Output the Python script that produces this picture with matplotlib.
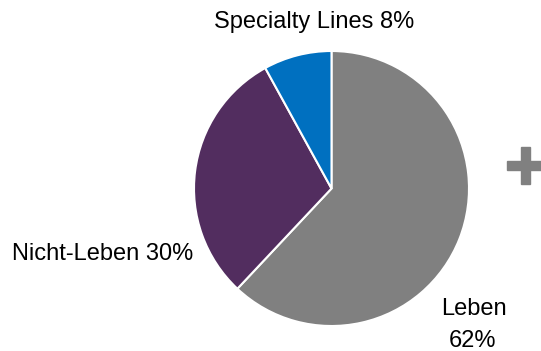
import matplotlib.pyplot as plt
from matplotlib.patches import Rectangle

# segment shares (percent), drawn clockwise from 12 o'clock
segments = ['Leben', 'Nicht-Leben', 'Specialty Lines']
shares = [62, 30, 8]
colors = ['#808080', '#522D5F', '#0070C0']

plt.rcParams['font.family'] = ['Liberation Sans', 'DejaVu Sans']

W, H = 541, 351
fig = plt.figure(figsize=(W / 100, H / 100), dpi=100, facecolor='white')

# pie centre and radius in pixels
cx, cy, r = 331.5, 188.5, 137.5
ax = fig.add_axes([(cx - r) / W, (H - cy - r) / H, 2 * r / W, 2 * r / H])
ax.pie(shares, colors=colors, startangle=90, counterclock=False, radius=1,
       wedgeprops=dict(edgecolor='white', linewidth=1.5))
ax.set_xlim(-1, 1)
ax.set_ylim(-1, 1)
ax.set_aspect('equal')
ax.axis('off')


def px(x, y):
    # pixel position -> data units of the pie axes
    return (x - cx) / r, (cy - y) / r


fs = 17
kw = dict(fontsize=fs, color='black', ha='center', va='baseline', clip_on=False)
ax.text(*px(314, 28.3), f'{segments[2]} {shares[2]}%', **kw)
ax.text(*px(103, 260), f'{segments[1]} {shares[1]}%', **kw)
ax.text(*px(474, 315), segments[0], **kw)
ax.text(*px(472.5, 346.7), f'{shares[0]}%', **kw)

# grey plus sign on the right
for x0, y0, w, h in [(520.7, 146.7, 9.3, 37.3), (506.7, 160.7, 34.3, 9.3)]:
    fig.patches.append(Rectangle((x0 / W, (H - y0 - h) / H), w / W, h / H,
                                 transform=fig.transFigure, color='#808080'))

fig.savefig('out.png', dpi=100, facecolor='white')
